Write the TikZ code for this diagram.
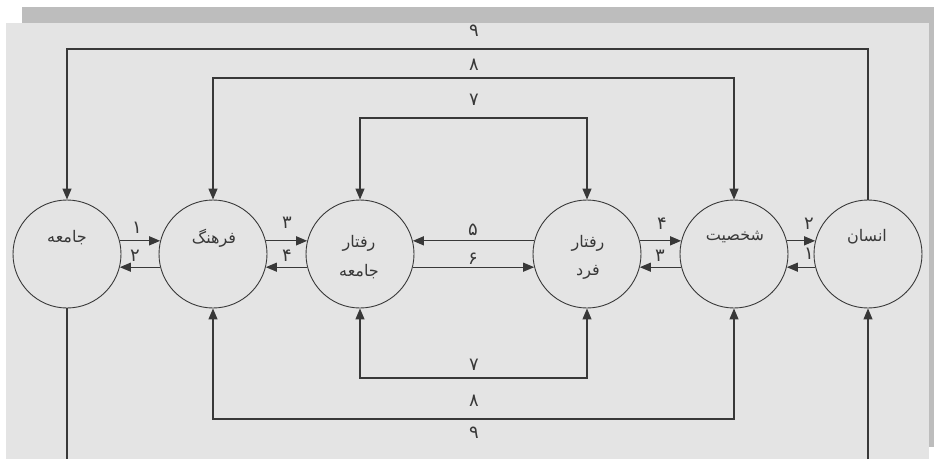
\documentclass[tikz,border=0pt]{standalone}
\usepackage{fontspec}
\usetikzlibrary{arrows.meta}
\TeXXeTstate=1
\newfontfamily\fa[Script=Arabic]{DejaVu Sans}
\definecolor{panel}{HTML}{E4E4E4}
\definecolor{bar}{HTML}{BDBDBD}
\definecolor{ink}{HTML}{383838}
\tikzset{
  ln/.style={draw=ink,line width=1.2pt},
  arr/.style={ln,-{Triangle[length=11pt,width=9pt]}},
  arrs/.style={ln,{Triangle[length=11pt,width=9pt]}-{Triangle[length=11pt,width=9pt]}},
  circ/.style={circle,draw=ink,line width=0.9pt,minimum size=108pt,inner sep=0pt},
  word/.style={text=ink,font=\fa\fontsize{16}{18}\selectfont,inner sep=0pt},
  num/.style={text=ink,font=\fa\fontsize{18}{20}\selectfont,inner sep=0pt}
}
\begin{document}
\begin{tikzpicture}[x=1pt,y=-1pt]
\fill[white] (0,0) rectangle (934,459);
\fill[bar] (22,7) rectangle (934,447);
\fill[panel] (6,23) rectangle (929,459);
\useasboundingbox (0,0) rectangle (934,459);
% circles
\node[circ] (n1) at (67,254) {};
\node[circ] (n2) at (213,254) {};
\node[circ] (n3) at (360,254) {};
\node[circ] (n4) at (587,254) {};
\node[circ] (n5) at (734,254) {};
\node[circ] (n6) at (868,254) {};
% words
\node[word] (w1) at (67,238) {\beginR جامعه\endR};
\node[word] (w2) at (214,238) {\beginR فرهنگ\endR};
\node[word] (w3a) at (359,243) {\beginR رفتار\endR};
\node[word] (w3b) at (359,272) {\beginR جامعه\endR};
\node[word] (w4a) at (588,243) {\beginR رفتار\endR};
\node[word] (w4b) at (588,272) {\beginR فرد\endR};
\node[word] (w5) at (735,237) {\beginR شخصیت\endR};
\node[word] (w6) at (867,237) {\beginR انسان\endR};
% horizontal arrows
\draw[arr] (n1.14) -- (n2.166);
\draw[arr] (n2.194) -- (n1.-14);
\draw[arr] (n2.14) -- (n3.166);
\draw[arr] (n3.194) -- (n2.-14);
\draw[arr] (n4.166) -- (n3.14);
\draw[arr] (n3.-14) -- (n4.194);
\draw[arr] (n4.14) -- (n5.166);
\draw[arr] (n5.194) -- (n4.-14);
\draw[arr] (n5.14) -- (n6.166);
\draw[arr] (n6.194) -- (n5.-14);
\node[num] (h1) at (137,228) {۱};
\node[num] (h2) at (135,256) {۲};
\node[num] (h3) at (287,223) {۳};
\node[num] (h4) at (287,256) {۴};
\node[num] (h5) at (473,230) {۵};
\node[num] (h6) at (473,259) {۶};
\node[num] (h7) at (662,224) {۴};
\node[num] (h8) at (660,256) {۳};
\node[num] (h9) at (809,224) {۲};
\node[num] (h10) at (809,254) {۱};
% top loops
\coordinate (y9) at (474,49);
\coordinate (y8) at (474,78);
\coordinate (y7) at (474,118);
\draw[arr] (n6.north) |- (y9) -| (n1.north);
\draw[arrs] (n2.north) |- (y8) -| (n5.north);
\draw[arrs] (n3.north) |- (y7) -| (n4.north);
\node[num] (t9) at (474,31) {۹};
\node[num] (t8) at (474,65) {۸};
\node[num] (t7) at (474,100) {۷};
% bottom loops
\coordinate (b7) at (474,378);
\coordinate (b8) at (474,419);
\draw[arrs] (n3.south) |- (b7) -| (n4.south);
\draw[arrs] (n2.south) |- (b8) -| (n5.south);
\coordinate (b9l) at (67,459);
\coordinate (b9r) at (868,459);
\draw[ln] (n1.south) -- (b9l);
\draw[arr] (b9r) -- (n6.south);
\node[num] (d7) at (474,365) {۷};
\node[num] (d8) at (474,401) {۸};
\node[num] (d9) at (474,433) {۹};
\end{tikzpicture}
\end{document}
